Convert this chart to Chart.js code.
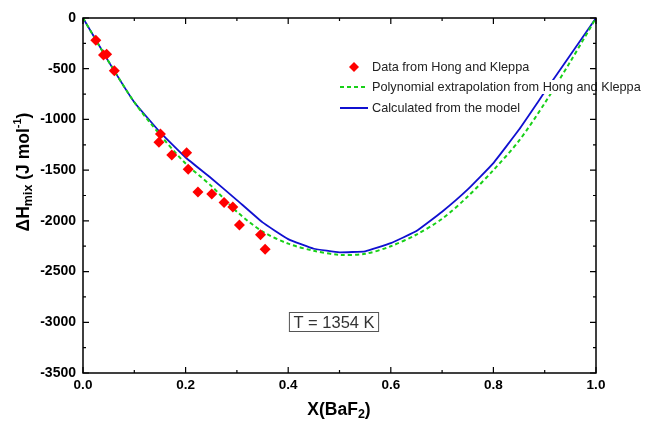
<!DOCTYPE html>
<html>
<head>
<meta charset="utf-8">
<script src="https://cdn.jsdelivr.net/npm/chart.js@4.4.0/dist/chart.umd.min.js"></script>
<style>
    html, body { margin: 0; padding: 0; background: #fff; }
    #wrap { width: 654px; height: 425px; position: relative; }
</style>
</head>
<body>
<div id="wrap"><canvas id="chart" width="654" height="425"></canvas></div>
<script>
// Composition grid used for both curves
const gridX = [0, 0.05, 0.1, 0.15, 0.2, 0.25, 0.3, 0.35, 0.4, 0.45, 0.5,
               0.55, 0.6, 0.65, 0.7, 0.75, 0.8, 0.85, 0.9, 0.95, 1.0];
// Calculated from the model
const modelH = [0, -430, -830, -1125, -1375, -1580, -1795, -2015, -2180, -2275, -2310,
                -2300, -2220, -2100, -1910, -1690, -1430, -1100, -730, -365, 0];
// Polynomial extrapolation from Hong and Kleppa
const polyH = [0, -430, -830, -1150, -1435, -1655, -1910, -2105, -2225, -2295, -2335,
               -2325, -2250, -2135, -1980, -1760, -1500, -1210, -840, -430, 0];
// Measured points (Hong and Kleppa)
const hkX = [0.025, 0.040, 0.046, 0.061, 0.148, 0.151, 0.173, 0.202, 0.205, 0.224,
             0.251, 0.275, 0.292, 0.305, 0.346, 0.355];
const hkH = [-220, -365, -358, -520, -1226, -1144, -1351, -1328, -1492, -1716,
             -1736, -1818, -1864, -2041, -2137, -2281];

const xTicks = [0, 0.2, 0.4, 0.6, 0.8, 1.0];
const yTicks = [0, -500, -1000, -1500, -2000, -2500, -3000, -3500];

const legendItems = ['Data from Hong and Kleppa',
                     'Polynomial extrapolation from Hong and Kleppa',
                     'Calculated from the model'];
const tempLabel = 'T = 1354 K';

const FONT = '"Liberation Sans", Arial, Helvetica, sans-serif';
const RED = '#ff0000', GREEN = '#18d018', BLUE = '#1010d0';

const toXY = (xs, ys) => xs.map((x, i) => ({ x: x, y: ys[i] }));

// frame + inward ticks on all four sides
const framePlugin = {
    id: 'frame',
    afterDraw(chart) {
        const { ctx, chartArea: a, scales: { x, y } } = chart;
        ctx.save();
        ctx.strokeStyle = '#000';
        ctx.lineWidth = 1.5;
        ctx.strokeRect(a.left, a.top, a.right - a.left, a.bottom - a.top);
        ctx.lineWidth = 1.2;
        ctx.beginPath();
        for (let i = 0; i <= 10; i++) {
            const px = x.getPixelForValue(i / 10);
            const len = i % 2 === 0 ? 6 : 3;
            ctx.moveTo(px, a.bottom); ctx.lineTo(px, a.bottom - len);
            ctx.moveTo(px, a.top); ctx.lineTo(px, a.top + len);
        }
        for (let i = 0; i <= 14; i++) {
            const py = y.getPixelForValue(-250 * i);
            const len = i % 2 === 0 ? 6 : 3;
            ctx.moveTo(a.left, py); ctx.lineTo(a.left + len, py);
            ctx.moveTo(a.right, py); ctx.lineTo(a.right - len, py);
        }
        ctx.stroke();
        ctx.restore();
    }
};

// draws a run of text pieces with sub/superscripts, centred on cx
function drawRich(ctx, parts, cx, cy) {
    let total = 0;
    parts.forEach(p => { ctx.font = p.font; total += ctx.measureText(p.t).width; });
    let xPos = cx - total / 2;
    parts.forEach(p => {
        ctx.font = p.font;
        ctx.fillText(p.t, xPos, cy + (p.dy || 0));
        xPos += ctx.measureText(p.t).width;
    });
}

const titlePlugin = {
    id: 'titles',
    afterDraw(chart) {
        const { ctx, chartArea: a } = chart;
        const big = 'bold 17.5px ' + FONT, small = 'bold 12.5px ' + FONT;
        ctx.save();
        ctx.fillStyle = '#000';
        ctx.textBaseline = 'middle';
        ctx.textAlign = 'left';
        drawRich(ctx, [
            { t: 'X(BaF', font: big },
            { t: '2', font: small, dy: 5 },
            { t: ')', font: big }
        ], 339, 410);

        ctx.translate(24, 172);
        ctx.rotate(-Math.PI / 2);
        drawRich(ctx, [
            { t: '\u0394H', font: big },
            { t: 'mix', font: small, dy: 5 },
            { t: ' (J mol', font: big },
            { t: '-1', font: 'bold 11px ' + FONT, dy: -6 },
            { t: ')', font: big }
        ], 0, 0);
        ctx.restore();
    }
};

const legendPlugin = {
    id: 'insetLegend',
    afterDatasetsDraw(chart) {
        const { ctx } = chart;
        const tx = 372, rows = [67, 87, 108];
        ctx.save();
        ctx.font = '12.7px ' + FONT;
        ctx.textBaseline = 'middle';
        legendItems.forEach((label, i) => {
            const w = ctx.measureText(label).width;
            ctx.fillStyle = '#fff';
            ctx.fillRect(tx - 1, rows[i] - 7, w + 2, 14);
            ctx.fillStyle = '#222';
            ctx.fillText(label, tx, rows[i]);
        });
        // red diamond
        ctx.fillStyle = RED;
        ctx.beginPath();
        ctx.moveTo(354, rows[0] - 5); ctx.lineTo(359, rows[0]);
        ctx.lineTo(354, rows[0] + 5); ctx.lineTo(349, rows[0]);
        ctx.closePath(); ctx.fill();
        // dashed green
        ctx.strokeStyle = GREEN; ctx.lineWidth = 2;
        ctx.setLineDash([4, 3]);
        ctx.beginPath(); ctx.moveTo(340, rows[1]); ctx.lineTo(368, rows[1]); ctx.stroke();
        // solid blue
        ctx.setLineDash([]);
        ctx.strokeStyle = BLUE; ctx.lineWidth = 2;
        ctx.beginPath(); ctx.moveTo(340, rows[2]); ctx.lineTo(368, rows[2]); ctx.stroke();

        // temperature box
        ctx.font = '16.5px ' + FONT;
        ctx.textAlign = 'center';
        const tw = ctx.measureText(tempLabel).width;
        const cx = 334, cy = 322;
        ctx.fillStyle = '#fff';
        ctx.fillRect(cx - tw / 2 - 4, cy - 9.5, tw + 8, 19);
        ctx.strokeStyle = '#555'; ctx.lineWidth = 1;
        ctx.strokeRect(cx - tw / 2 - 4, cy - 9.5, tw + 8, 19);
        ctx.fillStyle = '#333';
        ctx.fillText(tempLabel, cx, cy + 1);
        ctx.restore();
    }
};

new Chart(document.getElementById('chart'), {
    type: 'scatter',
    data: {
        datasets: [
            {
                label: legendItems[2],
                data: toXY(gridX, modelH),
                showLine: true,
                borderColor: BLUE,
                borderWidth: 1.8,
                pointRadius: 0,
                tension: 0.1,
                order: 3
            },
            {
                label: legendItems[1],
                data: toXY(gridX, polyH),
                showLine: true,
                borderColor: GREEN,
                borderWidth: 2,
                borderDash: [4, 3],
                pointRadius: 0,
                tension: 0.3,
                order: 2
            },
            {
                label: legendItems[0],
                data: toXY(hkX, hkH),
                pointStyle: 'rectRot',
                pointRadius: 5.5,
                backgroundColor: RED,
                borderColor: RED,
                borderWidth: 0,
                order: 1
            }
        ]
    },
    options: {
        responsive: false,
        animation: false,
        devicePixelRatio: 1,
        layout: { padding: { left: 0, top: 18, right: 58, bottom: 0 } },
        plugins: { legend: { display: false }, tooltip: { enabled: false } },
        scales: {
            x: {
                type: 'linear',
                min: 0, max: 1,
                afterBuildTicks: s => { s.ticks = xTicks.map(v => ({ value: v })); },
                afterFit: s => { s.height = 52; },
                grid: { display: false, drawTicks: false },
                border: { display: false },
                ticks: {
                    padding: 4,
                    color: '#000',
                    font: { family: FONT, size: 13.5, weight: 'bold' },
                    maxRotation: 0,
                    callback: v => v.toFixed(1)
                }
            },
            y: {
                type: 'linear',
                min: -3500, max: 0,
                afterBuildTicks: s => { s.ticks = yTicks.map(v => ({ value: v })); },
                afterFit: s => { s.width = 83; },
                grid: { display: false, drawTicks: false },
                border: { display: false },
                ticks: {
                    padding: 7,
                    color: '#000',
                    font: { family: FONT, size: 14, weight: 'bold' },
                    callback: v => String(v)
                }
            }
        }
    },
    plugins: [framePlugin, titlePlugin, legendPlugin]
});
</script>
</body>
</html>
